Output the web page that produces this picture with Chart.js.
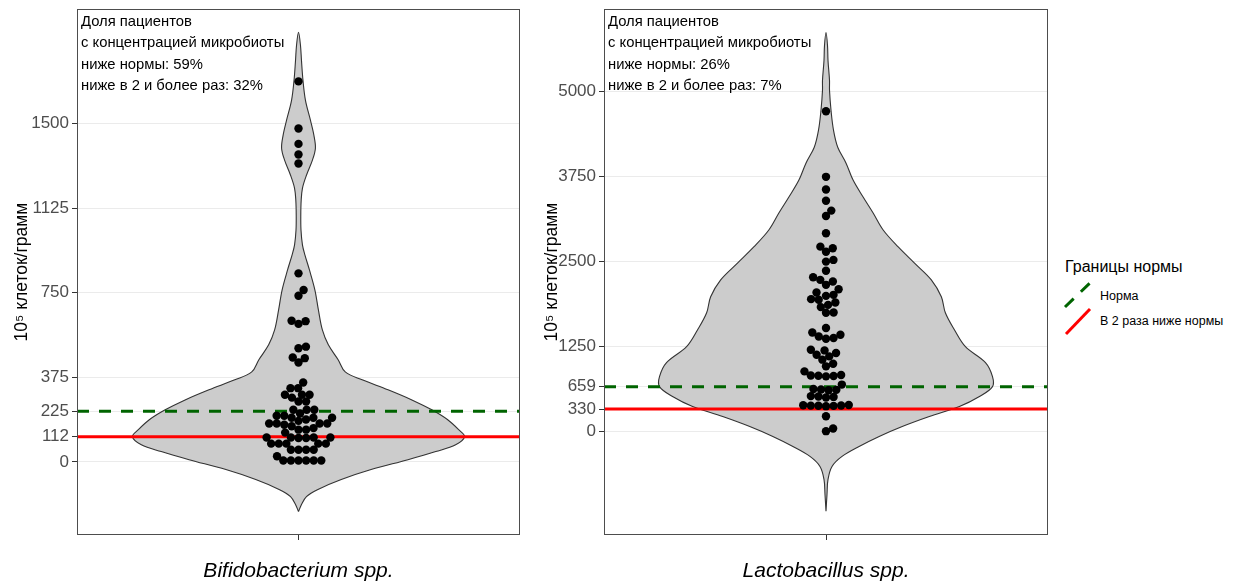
<!DOCTYPE html>
<html lang="ru">
<head>
<meta charset="utf-8">
<title>Концентрация микробиоты</title>
<script src="https://cdn.jsdelivr.net/npm/chart.js@4.4.1/dist/chart.umd.min.js"></script>
<style>
  html, body { margin: 0; padding: 0; background: #fff; }
  body { width: 1245px; height: 586px; position: relative; overflow: hidden;
         font-family: "Liberation Sans", Arial, sans-serif; }
  canvas { position: absolute; top: 0; }
  .note { position: absolute; top: 11px; font-size: 14.8px; line-height: 21.4px; color: #000; white-space: nowrap; }
  .legend { position: absolute; left: 1065px; top: 255px; color: #000; }
  .legend .ttl { position: absolute; left: 0; top: 0; font-size: 16px; white-space: nowrap; line-height: 24px; }
  .legend .item { position: absolute; left: 35px; font-size: 12.5px; white-space: nowrap; line-height: 16px; }
  .legend svg { position: absolute; left: 0; overflow: visible; }
</style>
</head>
<body>
<canvas id="bif" width="530" height="586" style="left:0px"></canvas>
<canvas id="lac" width="530" height="586" style="left:530px"></canvas>

<div class="note" style="left:81px">Доля пациентов<br>с концентрацией микробиоты<br>ниже нормы: 59%<br>ниже в 2 и более раз: 32%</div>
<div class="note" style="left:608px">Доля пациентов<br>с концентрацией микробиоты<br>ниже нормы: 26%<br>ниже в 2 и более раз: 7%</div>

<div class="legend">
  <div class="ttl">Границы нормы</div>
  <svg width="30" height="80" style="top:0">
    <line x1="0" y1="52" x2="25" y2="28" stroke="#006400" stroke-width="3" stroke-dasharray="12 10"/>
    <line x1="1" y1="79" x2="25" y2="54" stroke="#ff0000" stroke-width="3"/>
  </svg>
  <div class="item" style="top:33px">Норма</div>
  <div class="item" style="top:58px">В 2 раза ниже нормы</div>
</div>

<script>
// ---- values, 10^5 cells per gram ----
const bifTicks = [0, 112, 225, 375, 750, 1125, 1500];
const lacTicks = [0, 330, 659, 1250, 2500, 3750, 5000];

const bifNorm = 225, bifHalfNorm = 112;
const lacNorm = 659, lacHalfNorm = 330;

const bifValues = [
  1687, 1478, 1410, 1363, 1323,
  836, 762, 737, 626, 624, 612, 511, 504, 463, 460, 441,
  352, 327, 327, 298, 298, 298, 285, 268, 268, 231, 231, 231,
  215, 205, 205, 196, 196, 196, 188, 182, 170, 170, 170, 170, 165, 158, 150, 143, 143, 130,
  108, 108, 108, 108, 106, 106,
  81, 81, 81, 81, 81,
  54, 54, 54, 54,
  25,
  6, 6, 6, 6, 6, 6
];

const lacValues = [
  4703,
  3740, 3555, 3389, 3244, 3164,
  2911,
  2715, 2691, 2640,
  2520, 2495,
  2360,
  2266, 2227, 2202, 2154,
  2090, 2041, 2007, 1992, 1944, 1934, 1894, 1860, 1827,
  1748, 1745,
  1519,
  1455, 1421, 1396, 1373, 1362,
  1201, 1191, 1152, 1128, 1103,
  1055, 996, 957,
  883, 830, 822, 818, 815, 810,
  689,
  625, 618, 612, 605,
  520, 513, 508, 500,
  390, 385, 382, 380, 378, 376, 372,
  224, 44, 5
];

// violin outlines: value level -> relative half-width
const bifViolinLevels = [-220, -189, -154, -123, -78, -34, 10, 46, 76, 112, 143, 187, 231, 275, 320, 364, 399, 452, 519, 585, 674, 762, 851, 917, 961, 1028, 1094, 1160, 1214, 1271, 1338, 1391, 1448, 1515, 1603, 1692, 1780, 1846, 1905];
const bifViolinWidths = [0, 3, 8, 19, 43, 73, 110, 138, 158, 167, 161, 150, 134, 114, 90, 64, 47, 40, 30, 24, 20, 16.5, 11, 6.5, 4, 2.5, 2.3, 2.7, 4, 8, 14, 17, 15.5, 12, 7, 4.5, 3, 2, 0];

const lacViolinLevels = [-1172, -923, -703, -513, -366, -220, -73, 73, 220, 366, 513, 659, 806, 1011, 1245, 1494, 1743, 1978, 2227, 2476, 2710, 2959, 3208, 3443, 3692, 3941, 4175, 4424, 4717, 5010, 5157, 5450, 5669, 5860];
const lacViolinWidths = [0, 1, 2, 6, 16, 33, 53, 76, 103, 133, 153, 166, 166, 159, 139, 128, 119, 115, 105, 88, 72, 57, 47, 37, 27, 20, 11.7, 7.5, 5, 3.5, 3.5, 2, 1.5, 0];

// ---- drawing ----
const FONT = '"Liberation Sans", Arial, sans-serif';
Chart.defaults.font.family = FONT;

const HALF_WIDTH = 0.45;   // violin half-width at its widest, in x units
const X_RANGE = 0.6;

function violinOutline(levels, widths) {
  const maxW = Math.max(...widths);
  const right = levels.map((lv, i) => ({ x: HALF_WIDTH * widths[i] / maxW, y: lv }));
  const left = levels.slice().reverse().map((lv, i) => ({ x: -HALF_WIDTH * widths[levels.length - 1 - i] / maxW, y: lv }));
  return right.concat(left.slice(1));
}

const panelFrame = {
  id: 'panelFrame',
  afterDatasetsDraw(chart) {
    const a = chart.chartArea, c = chart.ctx;
    c.save();
    c.strokeStyle = '#4d4d4d';
    c.lineWidth = 1;
    c.strokeRect(Math.round(a.left) + 0.5, Math.round(a.top) + 0.5,
                 Math.round(a.right - a.left) - 1, Math.round(a.bottom - a.top) - 1);
    c.restore();
  }
};

function makePanel(id, opt) {
  const chart = new Chart(document.getElementById(id), {
    type: 'scatter',
    data: {
      datasets: [
        { label: 'Пациенты', data: opt.values.map(v => ({ x: 0, y: v })),
          pointRadius: 4.2, pointHoverRadius: 4.2, pointBackgroundColor: '#000', pointBorderWidth: 0,
          showLine: false, order: 1 },
        { label: 'Норма', data: [{ x: -X_RANGE, y: opt.norm }, { x: X_RANGE, y: opt.norm }],
          showLine: true, borderColor: '#006400', borderWidth: 3, borderDash: [12, 10],
          pointRadius: 0, order: 2 },
        { label: 'В 2 раза ниже нормы', data: [{ x: -X_RANGE, y: opt.half }, { x: X_RANGE, y: opt.half }],
          showLine: true, borderColor: '#ff0000', borderWidth: 3, pointRadius: 0, order: 2 },
        { label: 'Распределение', data: violinOutline(opt.levels, opt.widths),
          showLine: true, fill: 'shape', tension: 0.35,
          backgroundColor: '#cccccc', borderColor: '#333333', borderWidth: 1.1,
          pointRadius: 0, order: 4 }
      ]
    },
    options: {
      responsive: false, animation: false, maintainAspectRatio: false,
      layout: { padding: { top: 9, right: opt.padRight, bottom: 0, left: 0 } },
      plugins: { legend: { display: false }, tooltip: { enabled: false } },
      scales: {
        x: {
          type: 'linear', min: -X_RANGE, max: X_RANGE,
          afterBuildTicks: s => { s.ticks = [{ value: 0 }]; },
          ticks: { display: false },
          grid: { drawOnChartArea: false, drawTicks: true, tickLength: 5, tickColor: '#333', tickWidth: 1 },
          border: { display: false },
          title: { display: true, text: opt.name, color: '#000',
                   font: { size: 21, style: 'italic', family: FONT }, padding: { top: 0, bottom: 2.4 } },
          afterFit: s => { s.height = 51; s.paddingLeft = 0; s.paddingRight = 0; }
        },
        y: {
          min: opt.min, max: opt.max,
          afterBuildTicks: s => { s.ticks = opt.ticks.map(v => ({ value: v })); },
          ticks: { color: '#4d4d4d', font: { size: 17, family: FONT }, padding: 3, autoSkip: false,
                   callback: v => String(v) },
          grid: { color: '#ebebeb', lineWidth: 1, tickColor: '#333', tickLength: 5, tickWidth: 1 },
          border: { display: false },
          title: { display: true, text: '10⁵ клеток/грамм', color: '#000',
                   font: { size: 17.5, family: FONT }, padding: { top: 12, bottom: 0 } },
          afterFit: s => { s.width = opt.axisWidth; s.paddingTop = 0; s.paddingBottom = 0; }
        }
      }
    },
    plugins: [panelFrame]
  });
  arrangeSwarm(chart, 0, opt.values, 7.6);
  return chart;
}

// beeswarm: each point, lowest value first, goes to the free spot nearest the centre line
function arrangeSwarm(chart, dsIndex, values, diam) {
  const xs = chart.scales.x, ys = chart.scales.y;
  const pxPerUnit = (xs.right - xs.left) / (xs.max - xs.min);
  const pts = values.map(v => ({ v, py: ys.getPixelForValue(v), px: 0 }));
  const order = pts.slice().sort((a, b) => a.v - b.v);
  const placed = [];
  for (const p of order) {
    const cands = [0];
    for (const q of placed) {
      const dy = p.py - q.py;
      if (Math.abs(dy) < diam) {
        const dx = Math.sqrt(diam * diam - dy * dy);
        cands.push(q.px + dx, q.px - dx);
      }
    }
    cands.sort((a, b) => Math.abs(a) - Math.abs(b));
    for (const c of cands) {
      if (placed.every(q => (q.px - c) ** 2 + (q.py - p.py) ** 2 >= diam * diam - 1e-6)) { p.px = c; break; }
    }
    placed.push(p);
  }
  chart.data.datasets[dsIndex].data = pts.map(p => ({ x: p.px / pxPerUnit, y: p.v }));
  chart.update('none');
}

makePanel('bif', {
  name: 'Bifidobacterium spp.', values: bifValues, ticks: bifTicks,
  norm: bifNorm, half: bifHalfNorm, levels: bifViolinLevels, widths: bifViolinWidths,
  min: -324, max: 2008, axisWidth: 77, padRight: 10
});
makePanel('lac', {
  name: 'Lactobacillus spp.', values: lacValues, ticks: lacTicks,
  norm: lacNorm, half: lacHalfNorm, levels: lacViolinLevels, widths: lacViolinWidths,
  min: -1520, max: 6205, axisWidth: 74, padRight: 12
});
</script>
</body>
</html>
